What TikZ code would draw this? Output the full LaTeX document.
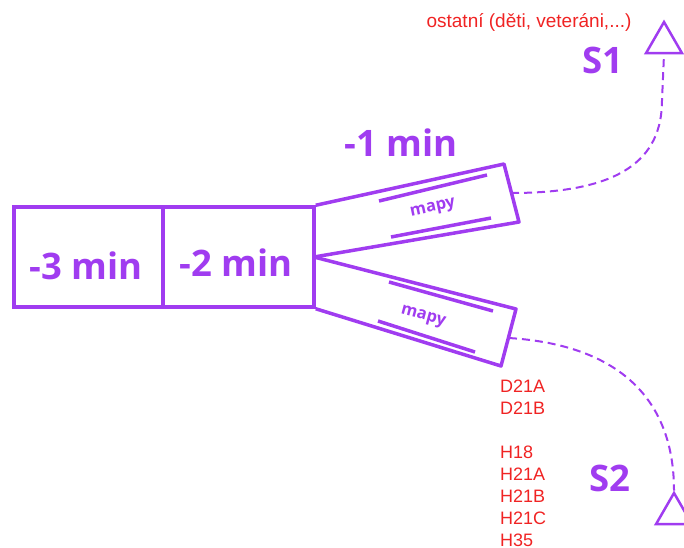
\documentclass[tikz,border=0pt]{standalone}
\usepackage{fontspec}
\setmainfont{Liberation Sans}
\newfontfamily\boldsans{Open Sans}[UprightFont=* Bold]
\usetikzlibrary{shapes.geometric}
\definecolor{purp}{RGB}{160,60,240}
\definecolor{redt}{RGB}{240,35,35}
\tikzset{
  box/.style={draw=purp, line width=3.5pt, minimum height=100pt, inner sep=0pt},
  chute/.style={draw=purp, line width=3.5pt, line join=round},
  rail/.style={draw=purp, line width=3.5pt},
  big/.style={text=purp, font=\boldsans\fontsize{36.5}{42}\selectfont, inner sep=0pt},
  small/.style={text=purp, font=\boldsans\fontsize{16.5}{18}\selectfont, inner sep=0pt},
  redlbl/.style={text=redt, font=\fontsize{19}{22}\selectfont, inner sep=0pt},
  redlist/.style={text=redt, font=\fontsize{18}{22}\selectfont, inner sep=0pt, align=left},
  tri/.style={draw=purp, line width=2.5pt, regular polygon, regular polygon sides=3, minimum size=41.6pt, inner sep=0pt},
  route/.style={draw=purp, line width=2pt, dash pattern=on 8pt off 5pt}
}
\begin{document}
\begin{tikzpicture}[x=1pt,y=-1pt]
\useasboundingbox (0,0) rectangle (684,547);
% start boxes
\node[box, minimum width=149pt] (b3) at (88.5,257) {};
\node[box, minimum width=151pt] (b2) at (238.5,257) {};
\node[big] (t3) at (86,266) {-3 min};
\node[big] (t2) at (236,263) {-2 min};
% chutes
\coordinate (j) at (314,257);
\coordinate (c1) at (511,193);
\coordinate (c2) at (509,338);
\draw[chute] (b2.north east) -- (504,164) -- (519,222) -- (j);
\draw[chute] (j) -- (516,309) -- (501,366) -- (b2.south east);
\draw[rail] (379,201) -- (487,175);
\draw[rail] (391,237) -- (491,218);
\draw[rail] (389,282) -- (493,311);
\draw[rail] (378,321) -- (475,352);
\node[small, rotate=12] (m1) at (433,209) {mapy};
\node[small, rotate=-15] (m2) at (423,317) {mapy};
\node[big] (t1) at (401,143) {-1 min};
% starts
\node[tri] (s1tri) at (664,42.8) {};
\node[tri] (s2tri) at (674,513.8) {};
\node[big] (s1) at (603,60) {S1};
\node[big] (s2) at (610,478) {S2};
\draw[route] (c1) .. controls (620,193) and (662,160) .. (662,100) -- (s1tri.south);
\draw[route] (c2) .. controls (620,345) and (674,400) .. (s2tri.north);
% labels
\node[redlbl] (ost) at (529,22) {ostatní (děti, veteráni,...)};
\node[redlist, anchor=north west] (cats) at (500,380) {D21A\\D21B\\[22pt]H18\\H21A\\H21B\\H21C\\H35};
\end{tikzpicture}
\end{document}
